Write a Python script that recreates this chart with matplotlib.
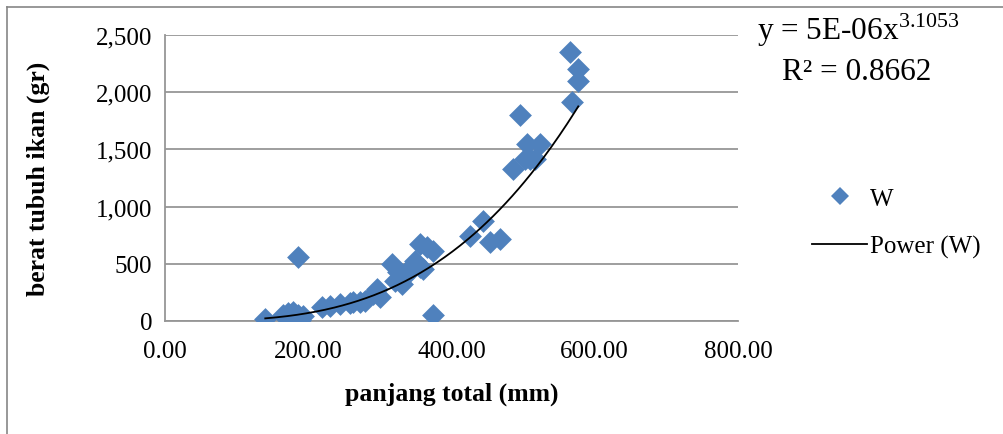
import numpy as np
import matplotlib
matplotlib.use("Agg")
import matplotlib.pyplot as plt
from matplotlib.lines import Line2D

plt.rcParams['font.family'] = ['Liberation Serif', 'DejaVu Serif']
plt.rcParams['mathtext.fontset'] = 'custom'
plt.rcParams['mathtext.rm'] = 'Liberation Serif'

# panjang total (mm) and berat (gr)
panjang = [140, 165, 172, 179, 186, 193, 188, 186,
           219, 230, 244, 258, 262, 272, 279, 290, 296, 300,
           317, 325, 321, 331, 338, 345, 349, 356, 366, 374, 356, 360, 374,
           426, 444, 454, 468,
           496, 505, 524, 503, 510, 486, 517,
           565, 577, 577, 568]
berat = [17, 52, 70, 79, 52, 44, 9, 560,
         122, 131, 149, 157, 166, 166, 175, 236, 280, 210,
         498, 428, 350, 323, 411, 481, 524, 673, 647, 612, 472, 455, 52,
         743, 874, 690, 717,
         1800, 1547, 1547, 1416, 1416, 1329, 1416,
         2351, 2203, 2098, 1914]

# power trendline coefficients as printed on the chart
coef_a = 5e-06
coef_b = 3.1053
r2 = 0.8662

fig = plt.figure(figsize=(10.04, 4.35), dpi=100)
ax = fig.add_axes([165/1004, 1 - 322/435, (738 - 165)/1004, (322 - 36)/435])

ax.scatter(panjang, berat, marker='D', s=135, color='#4F81BD', linewidths=0, zorder=3)
xs = np.linspace(min(panjang), max(panjang), 200)
ax.plot(xs, coef_a * xs ** coef_b, color='black', lw=1.3, zorder=4)

ax.set_xlim(0, 800)
ax.set_ylim(0, 2500)
ax.set_xticks([0, 200, 400, 600, 800])
ax.set_xticklabels(['0.00', '200.00', '400.00', '600.00', '800.00'])
ax.set_yticks([0, 500, 1000, 1500, 2000, 2500])
ax.set_yticklabels(['0', '500', '1,000', '1,500', '2,000', '2,500'])
ax.tick_params(length=0, labelsize=18, colors='black')
ax.tick_params(axis='x', pad=14)
ax.tick_params(axis='y', pad=9)
ax.yaxis.grid(True, color='#969696', lw=1.3)
ax.set_axisbelow(True)
for s in ['top', 'right']:
    ax.spines[s].set_visible(False)
for s in ['left', 'bottom']:
    ax.spines[s].set_color('#969696')
    ax.spines[s].set_linewidth(1.3)

ax.set_xlabel('panjang total (mm)', fontsize=18.5, fontweight='bold', labelpad=14)
ax.set_ylabel('berat tubuh ikan (gr)', fontsize=18.5, fontweight='bold', labelpad=33)

fig.text(757/1004, 1 - 40/435, 'y = 5E-06x$^{\\mathrm{3.1053}}$', fontsize=22.5, ha='left', va='baseline')
fig.text(782/1004, 1 - 80/435, 'R² = %.4f' % r2, fontsize=22.5, ha='left', va='baseline')

handles = [Line2D([], [], marker='D', ls='none', color='#4F81BD', markersize=9, markeredgewidth=0),
           Line2D([], [], color='black', lw=1.3)]
fig.legend(handles, ['W', 'Power (W)'], loc='center left', bbox_to_anchor=(790/1004, 1 - 224/435),
           frameon=False, fontsize=18, handlelength=2.2, handletextpad=0.1, labelspacing=1.0)

# outer chart frame (partly outside the picture)
fig.add_artist(Line2D([7/1004, 7/1004], [0, 1 - 8/435], transform=fig.transFigure, color='#868686', lw=1.2))
fig.add_artist(Line2D([7/1004, 1], [1 - 8/435, 1 - 8/435], transform=fig.transFigure, color='#868686', lw=1.2))

fig.savefig('out.png', dpi=100)
